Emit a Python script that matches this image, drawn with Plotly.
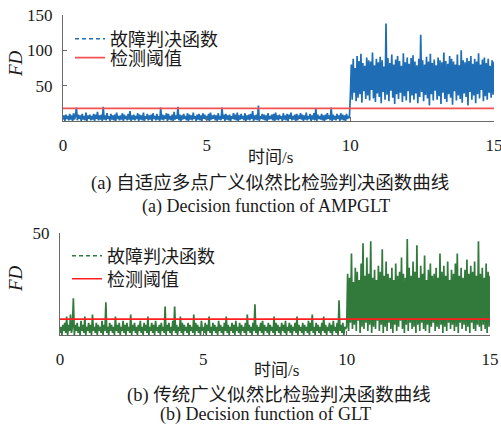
import numpy as np
import plotly.graph_objects as go

# ---------------- data ----------------
t_end = 15
fault_time = 10

# (a) AMPGLT decision function, 0-10 s (before fault)
fd_a_pre = [2,8,0,9,3,7,1,10,2,8,
            0,11,2,7,19,1,9,3,8,0,
            10,2,7,1,12,0,8,3,9,1,
            7,2,10,0,9,3,13,1,8,2,
            9,0,20,2,8,1,11,3,7,0,
            10,2,8,1,9,0,12,3,7,1,
            8,2,11,0,9,3,7,1,10,2,
            14,0,8,2,9,1,7,3,11,0,
            9,2,8,1,12,0,7,3,10,1,
            8,2,9,0,11,3,7,1,10,2,
            7,0,19,2,9,1,8,3,11,0,
            10,2,7,1,9,0,13,2,8,3,
            20,1,9,0,8,2,10,3,7,1,
            11,0,9,2,8,1,12,3,7,0,
            9,2,10,1,8,0,11,3,9,2,
            7,1,10,0,12,2,8,3,9,1,
            8,0,11,2,7,1,19,3,9,0,
            10,2,8,1,9,0,7,3,11,2,
            9,1,12,0,8,2,10,3,7,1,
            11,0,8,2,9,1,10,3,14,0,
            8,2,9,1,22,0,7,3,10,2,
            9,1,8,0,11,2,7,3,9,1,
            10,0,12,2,8,1,9,3,7,0,
            11,2,8,1,10,0,9,3,12,1,
            7,2,9,0,10,1,8,3,11,2,
            9,0,8,2,12,1,7,3,10,0,
            8,2,11,1,18,0,9,3,7,2,
            10,1,8,0,9,2,11,3,8,1,
            19,0,9,2,7,1,10,3,8,0,
            11,2,9,1,8,0,10,3,7,4]
# (a) AMPGLT decision function, 10-15 s (after fault)
fd_a_post = [35,80,30,88,40,75,28,92,33,85,
             38,95,26,82,42,78,31,90,36,86,
             29,84,44,97,32,79,27,88,39,83,
             34,91,25,86,41,77,30,138,37,89,
             28,82,43,94,33,80,24,87,38,92,
             31,85,40,78,27,96,35,83,29,90,
             42,81,26,89,36,93,30,84,39,79,
             25,88,34,122,41,86,28,80,37,91,
             32,84,22,95,38,82,29,87,43,79,
             30,90,35,86,24,83,40,97,31,85,
             27,81,38,92,33,88,23,84,42,80,
             29,94,36,79,31,100,26,86,39,83,
             34,89,22,85,41,92,30,81,36,88,
             25,84,38,96,32,80,44,87,28,90,
             35,82,30,88,40,78,33,86,37,84]
threshold_a = 18

# (b) GLT decision function, 0-10 s
fd_b_pre = [1,4,0,5,2,6,1,9,0,5,
            2,10,1,4,18,0,5,2,6,1,
            4,0,7,2,5,1,9,0,4,2,
            6,1,5,0,10,2,4,1,6,0,
            5,2,4,1,7,0,5,2,16,1,
            4,0,6,2,5,1,4,0,9,2,
            5,1,6,0,4,2,7,1,5,0,
            6,2,4,1,10,0,5,2,6,1,
            4,0,5,2,7,1,4,0,6,2,
            5,1,9,0,4,2,6,1,5,0,
            7,2,4,1,5,0,6,2,4,1,
            14,0,5,2,6,1,4,0,7,2,
            14,1,5,0,4,2,9,1,6,0,
            5,2,4,1,6,0,5,2,4,1,
            10,0,6,2,5,1,4,0,7,2,
            4,1,6,0,5,2,9,1,4,0,
            6,2,5,1,4,0,7,2,5,1,
            4,0,6,2,9,1,5,0,4,2,
            6,1,5,0,7,2,4,1,6,0,
            5,2,4,1,6,0,10,2,5,1,
            4,0,6,2,15,1,5,0,4,2,
            6,1,7,0,5,2,4,1,6,0,
            5,2,4,1,9,0,6,2,5,1,
            4,0,6,2,5,1,7,0,4,2,
            6,1,5,0,4,2,6,1,9,0,
            5,2,4,1,6,0,5,2,4,1,
            7,0,6,2,10,1,4,0,6,2,
            5,1,4,0,6,2,9,1,5,0,
            4,2,6,1,5,0,7,2,4,1,
            6,0,17,2,5,1,6,0,4,3]
# (b) GLT decision function, 10-15 s
fd_b_post = [4,30,2,28,6,40,3,26,5,33,
             2,31,7,27,1,35,4,45,3,29,
             6,38,2,30,5,46,1,28,4,32,
             3,27,7,34,2,31,5,42,1,29,
             4,36,2,30,6,28,3,33,1,27,
             5,35,2,29,4,31,7,38,3,30,
             1,28,5,47,2,33,6,29,3,36,
             4,31,1,44,5,28,2,34,6,30,
             3,39,2,27,5,32,1,35,4,29,
             6,30,2,33,4,28,3,40,5,31,
             1,34,4,29,2,36,6,27,3,32,
             5,30,2,35,4,40,1,29,6,33,
             3,28,5,32,2,37,4,30,1,34,
             6,31,3,36,2,29,5,46,4,30,
             2,33,5,28,3,35,1,31,4,29]
threshold_b = 7.8

x_ticks = [0, 5, 10, 15]
y_ticks_a = [50, 100, 150]
y_ticks_b = [50]
legend_names = ["故障判决函数", "检测阈值"]

# time axes for the sampled values
t_a = np.concatenate([np.linspace(0, fault_time, len(fd_a_pre), endpoint=False),
                      np.linspace(fault_time, t_end, len(fd_a_post))])
y_a = fd_a_pre + fd_a_post
t_b = np.concatenate([np.linspace(0, fault_time, len(fd_b_pre), endpoint=False),
                      np.linspace(fault_time, t_end, len(fd_b_post))])
y_b = fd_b_pre + fd_b_post

# ---------------- figure ----------------
W, H = 501, 431
def px(x): return x / W
def py(y): return 1 - y / H

BLUE = "#1f6eb5"
GREEN = "#317a3c"
RED_A = "#f25252"
RED_B = "#ff1f1f"
AX = "#6a6a6a"
TXT = "#1a1a1a"
SERIF = "Liberation Serif, 'Noto Sans CJK SC', serif"
CJK = "Liberation Serif, 'Noto Sans CJK SC', sans-serif"

fig = go.Figure()
# data curves (dense)
fig.add_trace(go.Scatter(x=t_a, y=y_a, mode="lines", showlegend=False,
                         line=dict(color=BLUE, width=1.7), xaxis="x", yaxis="y"))
fig.add_trace(go.Scatter(x=t_b, y=y_b, mode="lines", showlegend=False,
                         line=dict(color=GREEN, width=1.7), xaxis="x2", yaxis="y2"))
# legend entries (dashed sample)
fig.add_trace(go.Scatter(x=[None], y=[None], mode="lines", name=legend_names[0],
                         line=dict(color=BLUE, width=1.5, dash="4px,3px"),
                         xaxis="x", yaxis="y", legend="legend"))
fig.add_trace(go.Scatter(x=[None], y=[None], mode="lines", name=legend_names[0],
                         line=dict(color=GREEN, width=1.5, dash="4px,3px"),
                         xaxis="x2", yaxis="y2", legend="legend3"))
# thresholds
fig.add_trace(go.Scatter(x=[0, t_end], y=[threshold_a, threshold_a], mode="lines",
                         name=legend_names[1], line=dict(color=RED_A, width=1.8),
                         xaxis="x", yaxis="y", legend="legend2"))
fig.add_trace(go.Scatter(x=[0, t_end], y=[threshold_b, threshold_b], mode="lines",
                         name=legend_names[1], line=dict(color=RED_B, width=1.6),
                         xaxis="x2", yaxis="y2", legend="legend4"))

axis_common = dict(showline=True, linecolor=AX, linewidth=1.3, ticks="inside",
                   ticklen=4, tickcolor=AX, tickwidth=1.2, showgrid=False,
                   zeroline=False, automargin=False, ticklabeloverflow="allow",
                   tickfont=dict(family=SERIF, size=17, color=TXT))

fig.update_layout(
    width=W, height=H, margin=dict(l=0, r=0, t=0, b=0, pad=0, autoexpand=False),
    paper_bgcolor="white", plot_bgcolor="white", showlegend=True,
    xaxis=dict(domain=[px(63), px(494)], range=[0, t_end], tickvals=x_ticks,
               anchor="y", ticklabelstandoff=8, **axis_common),
    yaxis=dict(domain=[py(121), py(15)], range=[0, 150], tickvals=y_ticks_a,
               anchor="x", ticklabelstandoff=6, **axis_common),
    xaxis2=dict(domain=[px(60), px(490)], range=[0, t_end], tickvals=x_ticks,
                anchor="y2", ticklabelstandoff=8, **axis_common),
    yaxis2=dict(domain=[py(335), py(233)], range=[0, 50], tickvals=y_ticks_b,
                anchor="x2", ticklabelstandoff=6, **axis_common),
)

leg_font = dict(family=CJK, size=18, color=TXT)
def leg(x, y):
    return dict(x=px(x), y=py(y), xanchor="left", yanchor="middle",
                bgcolor="rgba(0,0,0,0)", font=leg_font, borderwidth=0)
fig.update_layout(legend=leg(70, 39), legend2=leg(70, 58),
                  legend3=leg(67, 256), legend4=leg(67, 279))

def ann(text, x, y, size=18, angle=0, family=CJK):
    fig.add_annotation(text=text, x=px(x), y=py(y), xref="paper", yref="paper",
                       showarrow=False, xanchor="center", yanchor="middle",
                       textangle=angle, font=dict(family=family, size=size, color=TXT))

ann("<i>FD</i>", 15, 64, size=19, angle=-90, family=SERIF)
ann("<i>FD</i>", 15, 279, size=19, angle=-90, family=SERIF)
ann("时间/s", 270, 157, size=17)
ann("(a) 自适应多点广义似然比检验判决函数曲线", 270, 183, size=18.5)
ann("(a) Decision function of AMPGLT", 266, 206, family=SERIF)
ann("时间/s", 276, 370, size=17)
ann("(b) 传统广义似然比检验判决函数曲线", 279, 395, size=18.5)
ann("(b) Decision function of GLT", 265, 414, family=SERIF)

fig.write_html("out.html", config={"displayModeBar": False},
               post_script="document.body.style.margin='0';")
